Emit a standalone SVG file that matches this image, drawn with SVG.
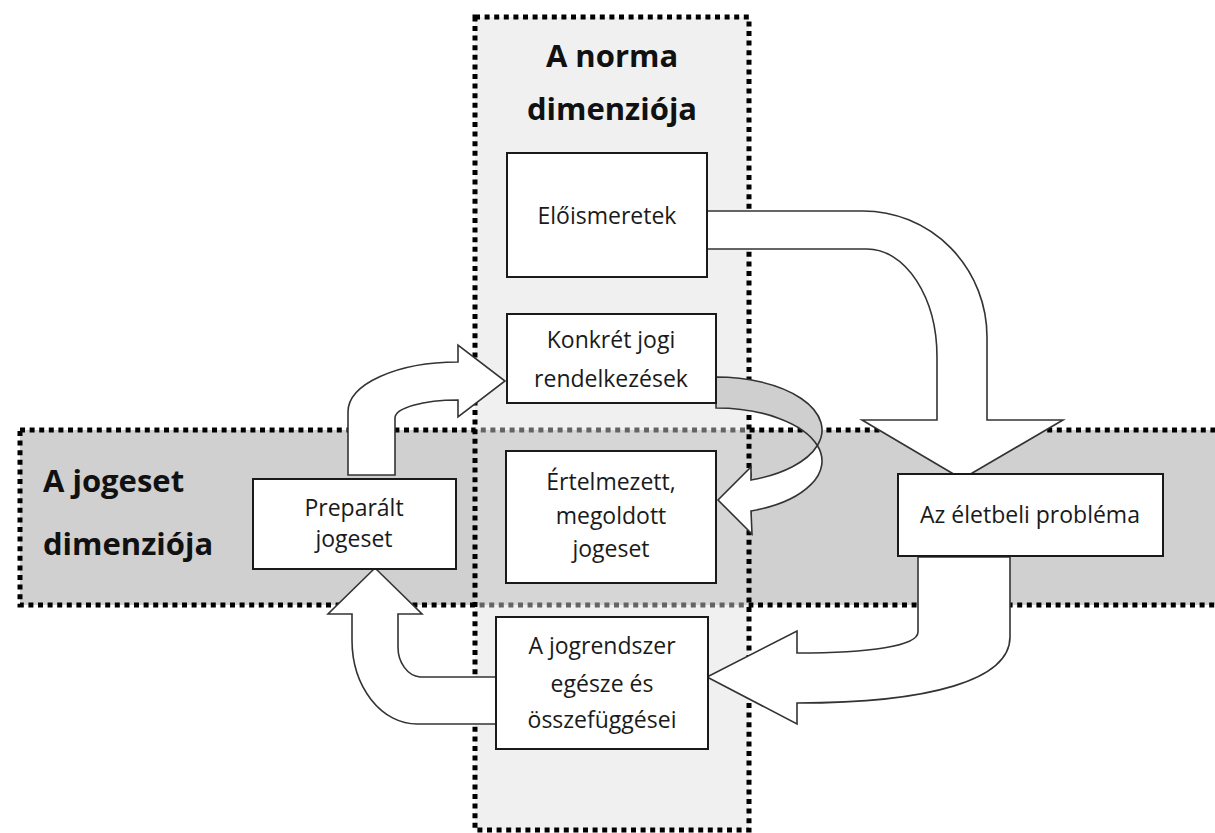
<svg xmlns="http://www.w3.org/2000/svg" width="1215" height="833" viewBox="0 0 1215 833">
<style>
.band{stroke:#000;stroke-width:5;stroke-dasharray:5 4.6}
.box{fill:#fff;stroke:#1a1a1a;stroke-width:2}
.arr{fill:#fff;stroke:#333;stroke-width:1.6;stroke-linejoin:miter}
.arrg{fill:#cfcfcf;stroke:#333;stroke-width:1.6}
.t{font-family:"Open Sans","Noto Sans",sans-serif;font-size:23px;fill:#1a1a1a;text-anchor:middle}
.h{font-family:"Open Sans","Noto Sans",sans-serif;font-size:31px;font-weight:bold;fill:#111}
</style>
<rect width="1215" height="833" fill="#fff"/>
<g id="band-jogeset">
<rect class="band" x="20" y="430" width="1220" height="175" fill="#d0d0d0"/>
<text class="h" x="43" y="492">A jogeset</text>
<text class="h" x="43" y="555">dimenziója</text>
</g>
<g id="band-norma">
<rect x="475" y="17" width="274" height="813" fill="#dedede" fill-opacity="0.45"/>
<rect class="band" x="475" y="17" width="274" height="813" fill="none"/>
<text class="h" x="612" y="67" text-anchor="middle">A norma</text>
<text class="h" x="612" y="120" text-anchor="middle">dimenziója</text>
</g>
<g id="connectors">
<path class="arr" d="M706,211 L863,211 A124 126 0 0 1 987,337 L987,420 L1063,420 L962,479 L862,420 L937,420 L937,357 A70 108 0 0 0 867,249 L706,249 Z"/>
<path class="arrg" d="M716,377 A106 53 0 0 1 817.4,445.5 A106 53 0 0 0 716,408 Z"/>
<path class="arr" d="M817.4,445.5 A106 53 0 0 1 751,480 L751,467 L718,500 L752,534 L751,511 A106 53 0 0 0 817.4,445.5 Z"/>
<path class="arr" d="M348,475 L348,412 C348,384 397,362 458,362 L458,345 L505,381 L458,417 L458,400 C423,400 395,408 395,418 L395,475 Z"/>
<path class="arr" d="M496,677 L420,677 A24 30 0 0 1 398,647 L398,614 L422,614 L375,568 L328,614 L352,614 L352,640 A65 84 0 0 0 417,724 L496,724 Z"/>
<path class="arr" d="M918,557 L918,632 C918,646 870,653 797,653 L797,631 L707,677 L797,724 L797,703 C930,703 1010,680 1010,637 L1010,557 Z"/>
</g>
<g id="node-eloismeretek">
<rect class="box" x="507" y="153" width="200" height="124"/>
<text class="t" x="607" y="224">Előismeretek</text>
</g>
<g id="node-konkret">
<rect class="box" x="507" y="314" width="209" height="89"/>
<text class="t" x="611" y="348">Konkrét jogi</text>
<text class="t" x="611" y="387">rendelkezések</text>
</g>
<g id="node-ertelmezett">
<rect class="box" x="506" y="451" width="210" height="132"/>
<text class="t" x="611" y="490">Értelmezett,</text>
<text class="t" x="611" y="524">megoldott</text>
<text class="t" x="611" y="557">jogeset</text>
</g>
<g id="node-preparalt">
<rect class="box" x="253" y="479" width="203" height="90"/>
<text class="t" x="354" y="516">Preparált</text>
<text class="t" x="354" y="547">jogeset</text>
</g>
<g id="node-eletbeli">
<rect class="box" x="898" y="474" width="265" height="82"/>
<text class="t" x="1030" y="523">Az életbeli probléma</text>
</g>
<g id="node-jogrendszer">
<rect class="box" x="496" y="617" width="212" height="132"/>
<text class="t" x="602" y="654">A jogrendszer</text>
<text class="t" x="602" y="692">egésze és</text>
<text class="t" x="602" y="728">összefüggései</text>
</g>
</svg>
